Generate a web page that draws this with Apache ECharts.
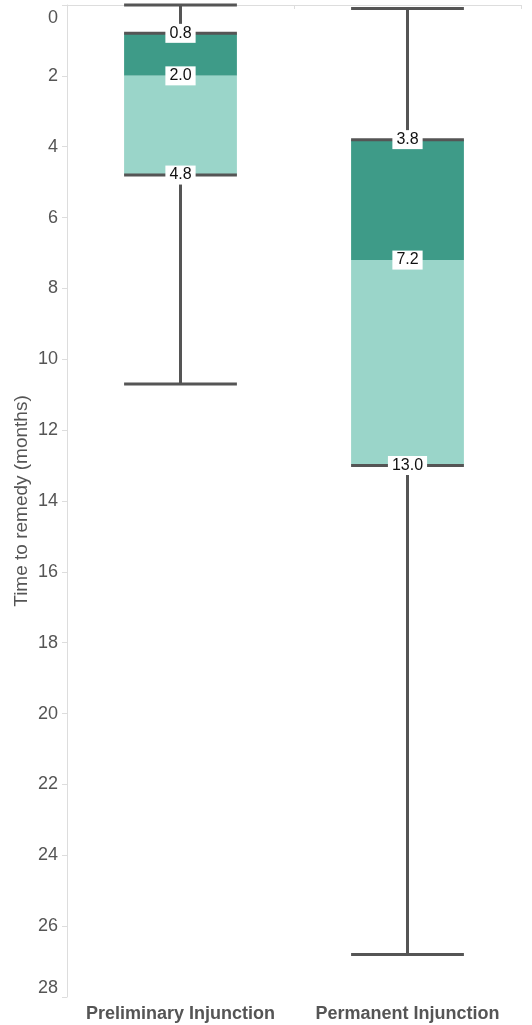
<!DOCTYPE html>
<html>
<head>
<meta charset="utf-8">
<script src="https://cdn.jsdelivr.net/npm/echarts@6/dist/echarts.min.js"></script>
<style>
html,body{margin:0;padding:0;background:#fff;}
#chart{width:532px;height:1025px;}
</style>
</head>
<body>
<div id="chart"></div>
<script>
// ---- data ----
var categories = ['Preliminary Injunction', 'Permanent Injunction'];
var whiskerTop = [0.0, 0.1];
var q1Values = [0.8, 3.8];
var medianValues = [2.0, 7.2];
var q3Values = [4.8, 13.0];
var whiskerBottom = [10.7, 26.8];
var yTicks = [0, 2, 4, 6, 8, 10, 12, 14, 16, 18, 20, 22, 24, 26, 28];

var DARK = '#3e9b88';
var LIGHT = '#9ad5c9';
var WHISKER = '#555555';
var FONT = '"Liberation Sans", Arial, sans-serif';

var seriesData = categories.map(function (c, i) {
  return [i, whiskerTop[i], q1Values[i], medianValues[i], q3Values[i], whiskerBottom[i]];
});

function renderItem(params, api) {
  var idx = api.value(0);
  var band = api.size([1, 0])[0];
  var bw = band * 0.497;
  var pTop = api.coord([idx, api.value(1)]);
  var pQ1 = api.coord([idx, api.value(2)]);
  var pMed = api.coord([idx, api.value(3)]);
  var pQ3 = api.coord([idx, api.value(4)]);
  var pBot = api.coord([idx, api.value(5)]);
  var cx = pQ1[0];
  var x0 = cx - bw / 2, x1 = cx + bw / 2;
  var lw = 3;
  function hline(y) {
    return { type: 'line', shape: { x1: x0, y1: y, x2: x1, y2: y }, style: { stroke: WHISKER, lineWidth: lw } };
  }
  function label(v, y) {
    return {
      type: 'text', z2: 10,
      style: {
        text: v.toFixed(1), x: cx, y: y, align: 'center', verticalAlign: 'middle',
        fill: '#111', font: '16px ' + FONT,
        backgroundColor: '#fff', padding: [2, 4, 1, 4]
      }
    };
  }
  return {
    type: 'group',
    children: [
      { type: 'line', shape: { x1: cx, y1: pTop[1], x2: cx, y2: pQ1[1] }, style: { stroke: WHISKER, lineWidth: lw } },
      { type: 'line', shape: { x1: cx, y1: pQ3[1], x2: cx, y2: pBot[1] }, style: { stroke: WHISKER, lineWidth: lw } },
      { type: 'rect', shape: { x: x0, y: pQ1[1], width: bw, height: pMed[1] - pQ1[1] }, style: { fill: DARK } },
      { type: 'rect', shape: { x: x0, y: pMed[1], width: bw, height: pQ3[1] - pMed[1] }, style: { fill: LIGHT } },
      hline(pQ1[1]),
      hline(pQ3[1]),
      hline(pTop[1]),
      hline(pBot[1]),
      label(api.value(2), pQ1[1]),
      label(api.value(3), pMed[1]),
      label(api.value(4), pQ3[1])
    ]
  };
}

var chart = echarts.init(document.getElementById('chart'), null, { renderer: 'canvas' });
chart.setOption({
  animation: false,
  backgroundColor: '#fff',
  grid: { left: 67, right: 11, top: 5, bottom: 28, containLabel: false },
  xAxis: [{
    type: 'category',
    data: categories,
    position: 'bottom',
    boundaryGap: true,
    axisLine: { show: true, lineStyle: { color: '#dddddd', width: 1 } },
    axisTick: { show: true, length: 4, lineStyle: { color: '#dddddd' } },
    axisLabel: { interval: 0, hideOverlap: false, color: '#555555', fontWeight: 'bold', fontSize: 18, fontFamily: FONT, margin: 8 }
  }, {
    type: 'category',
    data: categories,
    position: 'top',
    axisLine: { show: true, lineStyle: { color: '#dddddd', width: 1 } },
    axisTick: { show: false },
    axisLabel: { show: false }
  }],
  yAxis: {
    type: 'value',
    inverse: true,
    min: yTicks[0],
    max: yTicks[yTicks.length - 1],
    interval: yTicks[1] - yTicks[0],
    name: 'Time to remedy (months)',
    nameLocation: 'middle',
    nameGap: 36,
    nameMoveOverlap: false,
    nameTextStyle: { color: '#555555', fontSize: 19, fontFamily: FONT },
    axisLine: { show: true, lineStyle: { color: '#dddddd', width: 1 } },
    axisTick: { show: true, length: 5, lineStyle: { color: '#dddddd' } },
    splitLine: { show: false },
    axisLabel: {
      color: '#555555', fontSize: 18, fontFamily: FONT, margin: 9,
      verticalAlignMinLabel: 'top', verticalAlignMaxLabel: 'bottom',
      formatter: function (v) { return v === yTicks[0] ? '{t|' + v + '}' : String(v); },
      rich: { t: { color: '#555555', fontSize: 18, fontFamily: FONT, padding: [4, 0, 0, 0] } }
    }
  },
  series: [{
    type: 'custom',
    renderItem: renderItem,
    encode: { x: 0, y: [1, 2, 3, 4, 5] },
    data: seriesData,
    clip: false
  }]
});
</script>
</body>
</html>
